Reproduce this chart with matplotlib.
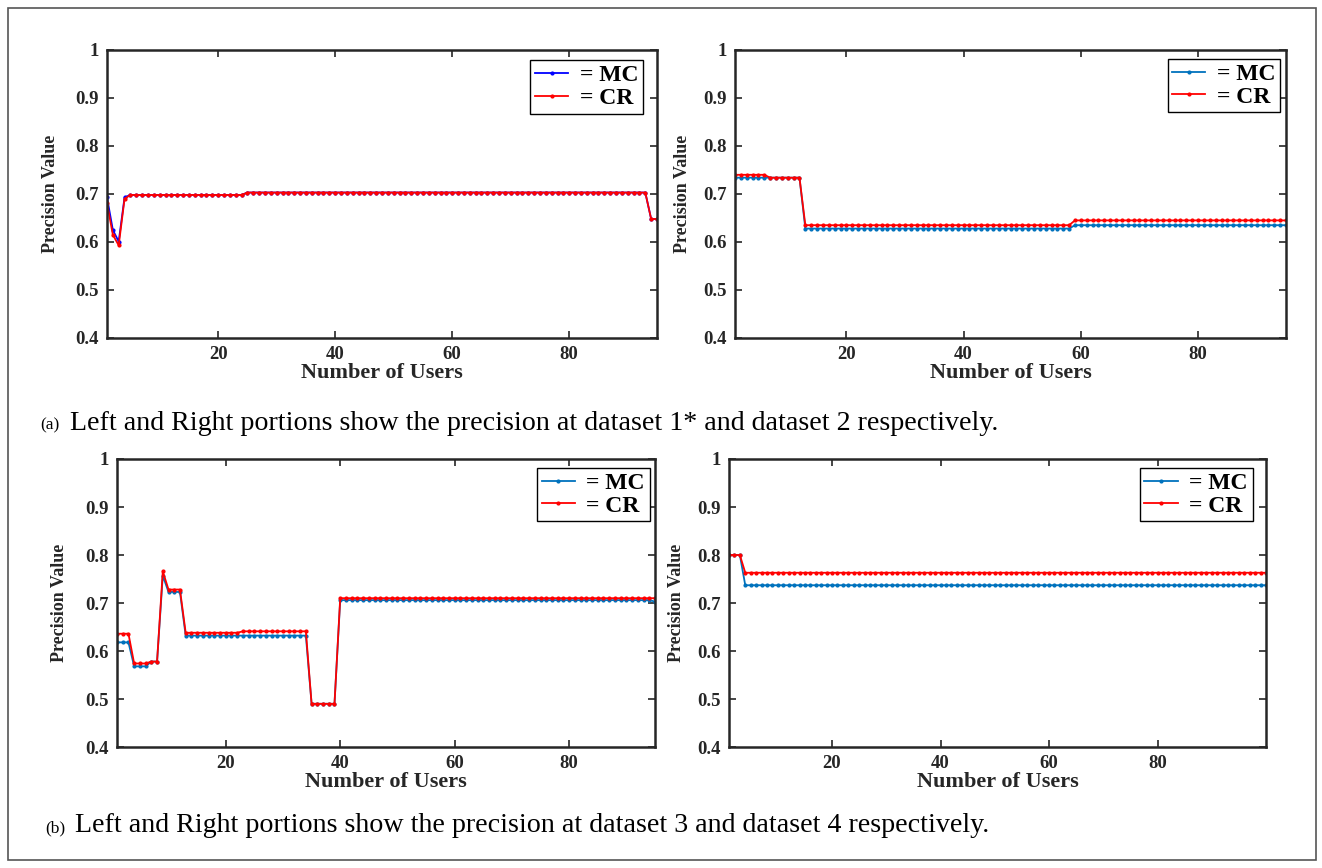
import numpy as np
import matplotlib
matplotlib.use("Agg")
from matplotlib import pyplot as plt
from matplotlib.patches import Rectangle

plt.rcParams['font.family'] = ['Liberation Serif', 'DejaVu Serif']

# precision per number of users, stored as (level, run length) pairs
# dataset 1*
d1_n = 95
d1_mc_levels = [0.693, 0.625, 0.601, 0.693, 0.698, 0.703, 0.648]
d1_mc_runs = [1, 1, 1, 1, 20, 69, 2]
d1_cr_levels = [0.681, 0.615, 0.593, 0.690, 0.698, 0.703, 0.648]
d1_cr_runs = [1, 1, 1, 1, 20, 69, 2]

# dataset 2
d2_n = 95
d2_mc_levels = [0.734, 0.628, 0.635]
d2_mc_runs = [12, 46, 37]
d2_cr_levels = [0.740, 0.734, 0.635, 0.645]
d2_cr_runs = [6, 6, 46, 37]

# dataset 3
d3_n = 95
d3_mc_levels = [0.618, 0.568, 0.578, 0.757, 0.723, 0.632, 0.490, 0.706, 0.703]
d3_mc_runs = [3, 3, 2, 1, 3, 22, 5, 55, 1]
d3_cr_levels = [0.636, 0.574, 0.578, 0.766, 0.728, 0.638, 0.641, 0.490, 0.710]
d3_cr_runs = [3, 3, 2, 1, 3, 10, 12, 5, 56]

# dataset 4
d4_n = 100
d4_mc_levels = [0.800, 0.737]
d4_mc_runs = [3, 97]
d4_cr_levels = [0.800, 0.763]
d4_cr_runs = [3, 97]

yticks = [0.4, 0.5, 0.6, 0.7, 0.8, 0.9, 1.0]
ytick_labels = ['0.4', '0.5', '0.6', '0.7', '0.8', '0.9', '1']
xticks = [20, 40, 60, 80]

caption_a = 'Left and Right portions show the precision at dataset 1* and dataset 2 respectively.'
caption_b = 'Left and Right portions show the precision at dataset 3 and dataset 4 respectively.'

W, H = 1322, 868
fig = plt.figure(figsize=(W / 100, H / 100), dpi=100)

MATLAB_BLUE = '#0072BD'
AX_COLOR = '#262626'


def px_axes(left, right, top, bottom):
    return fig.add_axes([left / W, (H - bottom) / H, (right - left) / W, (bottom - top) / H])


def panel(ax, n, mc_lv, mc_rn, cr_lv, cr_rn, mc_color, leg_anchor, ylab_x):
    x = np.arange(1, n + 1)
    mc = np.repeat(mc_lv, mc_rn)
    cr = np.repeat(cr_lv, cr_rn)
    ax.plot(x, mc, '-', color=mc_color, lw=1.3, marker='.', ms=4, label='= MC')
    ax.plot(x, cr, '-', color='red', lw=1.3, marker='.', ms=4, label='= CR')
    ax.set_xlim(1, n)
    ax.set_ylim(0.4, 1.0)
    ax.set_xticks(xticks)
    ax.set_yticks(yticks)
    ax.set_yticklabels(ytick_labels)
    ax.tick_params(direction='in', top=True, right=True, length=5, width=1.2,
                   colors=AX_COLOR, labelsize=13.5, pad=6)
    for lab in ax.get_xticklabels() + ax.get_yticklabels():
        lab.set_fontweight('bold')
    for sp in ax.spines.values():
        sp.set_linewidth(1.8)
        sp.set_color(AX_COLOR)
    ax.set_xlabel('Number of Users', fontsize=16, fontweight='bold', color=AX_COLOR, labelpad=0)
    ax.set_ylabel('Precision Value', fontsize=13, fontweight='bold', color=AX_COLOR)
    ax.yaxis.set_label_coords(ylab_x, 0.5)
    leg = ax.legend(loc='upper right', bbox_to_anchor=leg_anchor, fancybox=False,
                    framealpha=1, edgecolor='black', handlelength=1.4,
                    borderpad=0.2, labelspacing=0.05, handletextpad=0.5,
                    borderaxespad=0.0, prop={'weight': 'bold', 'size': 17})
    leg.get_frame().set_linewidth(1.0)


ax1 = px_axes(107, 657, 50, 338)
panel(ax1, d1_n, d1_mc_levels, d1_mc_runs, d1_cr_levels, d1_cr_runs, 'blue',
      (0.975, 0.965), -0.087)

ax2 = px_axes(735, 1286, 50, 338)
panel(ax2, d2_n, d2_mc_levels, d2_mc_runs, d2_cr_levels, d2_cr_runs, MATLAB_BLUE,
      (0.99, 0.97), -0.080)

ax3 = px_axes(117, 655, 459, 747)
panel(ax3, d3_n, d3_mc_levels, d3_mc_runs, d3_cr_levels, d3_cr_runs, MATLAB_BLUE,
      (0.99, 0.97), -0.091)

ax4 = px_axes(729, 1266, 459, 747)
panel(ax4, d4_n, d4_mc_levels, d4_mc_runs, d4_cr_levels, d4_cr_runs, MATLAB_BLUE,
      (0.975, 0.97), -0.082)

# captions
fig.text(40 / W, 1 - 425 / H, '(a)', fontsize=12.5, va='center', ha='left')
fig.text(70 / W, 1 - 423 / H, caption_a, fontsize=20.2, va='center', ha='left')
fig.text(45 / W, 1 - 828 / H, '(b)', fontsize=12.5, va='center', ha='left')
fig.text(75 / W, 1 - 826 / H, caption_b, fontsize=20.2, va='center', ha='left')

# outer frame
fig.patches.append(Rectangle((8 / W, 8 / H), 1308 / W, 852 / H, transform=fig.transFigure,
                             fill=False, edgecolor='#555555', lw=1.2))

fig.savefig('out.png', dpi=100)
